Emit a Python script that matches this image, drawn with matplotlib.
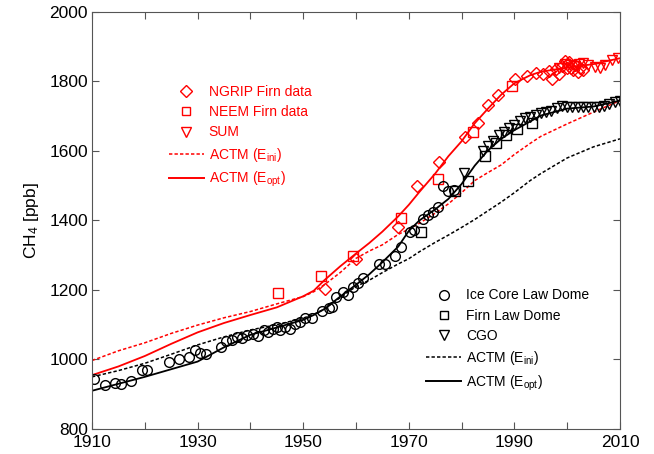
import matplotlib
matplotlib.use("Agg")
import matplotlib.pyplot as plt
from matplotlib.lines import Line2D

plt.rcParams["font.family"] = ["Liberation Sans", "DejaVu Sans"]
plt.rcParams["mathtext.fontset"] = "custom"
plt.rcParams["mathtext.rm"] = "Liberation Sans"
plt.rcParams["mathtext.it"] = "Liberation Sans"

# --- observations (black: southern hemisphere) ---
law_ice_yr = [1910.4, 1912.5, 1914.4, 1915.4, 1917.4, 1919.4, 1920.5, 1924.5, 1926.5,
              1928.4, 1929.5, 1930.5, 1931.5, 1934.4, 1935.4, 1936.6, 1937.5, 1938.5,
              1939.4, 1940.4, 1941.5, 1942.5, 1943.4, 1944.3, 1945.0, 1945.6, 1946.6,
              1947.5, 1948.4, 1949.4, 1950.3, 1951.6, 1953.5, 1954.8, 1955.5, 1956.3,
              1957.5, 1958.4, 1959.4, 1960.4, 1961.4, 1964.4, 1965.5, 1967.4, 1968.5,
              1970.2, 1970.9, 1972.6, 1973.7, 1974.6, 1975.6, 1976.5, 1977.5, 1978.6]
law_ice_ch4 = [944, 927, 932, 930, 939, 970, 970, 993, 1001,
               1008, 1027, 1020, 1016, 1037, 1053, 1056, 1064, 1061,
               1070, 1073, 1068, 1085, 1080, 1087, 1093, 1085, 1094,
               1089, 1102, 1108, 1119, 1119, 1140, 1147, 1152, 1181,
               1195, 1186, 1208, 1221, 1234, 1275, 1275, 1298, 1323,
               1368, 1373, 1403, 1416, 1425, 1440, 1500, 1485, 1488]

law_firn_yr = [1972.4, 1978.7, 1981.3, 1984.4, 1986.5, 1988.5, 1990.5, 1993.3]
law_firn_ch4 = [1368, 1484, 1515, 1586, 1622, 1645, 1662, 1680]

cgo_yr = [1980.5, 1984, 1985, 1986, 1987, 1988, 1989, 1990, 1991, 1992, 1993, 1994,
          1995, 1996, 1997, 1998, 1999, 2000, 2001, 2002, 2003, 2004, 2005, 2006,
          2007, 2008, 2009, 2010]
cgo_ch4 = [1537, 1600, 1615, 1630, 1645, 1656, 1666, 1675, 1686, 1695, 1699, 1704,
           1708, 1712, 1716, 1724, 1729, 1727, 1726, 1727, 1728, 1727, 1726, 1726,
           1730, 1736, 1741, 1745]

# --- observations (red: Greenland) ---
ngrip_yr = [1954.1, 1960.0, 1968.0, 1971.6, 1975.8, 1980.6, 1983.2, 1985.0, 1986.9,
            1990.1, 1992.3, 1994.1, 1995.5, 1996.5, 1997.2, 1997.8, 1998.4, 1999.0,
            1999.5, 1999.9, 2000.3, 2000.7, 2001.1, 2001.5, 2002.0, 2002.5, 2003.0]
ngrip_ch4 = [1202, 1288, 1382, 1499, 1569, 1641, 1680, 1732, 1761,
             1806, 1816, 1825, 1822, 1830, 1808, 1835, 1822, 1845,
             1858, 1840, 1855, 1838, 1832, 1848, 1826, 1840, 1834]

neem_yr = [1945.3, 1953.4, 1959.4, 1968.5, 1975.6, 1982.2, 1989.5]
neem_ch4 = [1190, 1240, 1298, 1406, 1518, 1655, 1787]

sum_yr = [1998.5, 1999.5, 2000.5, 2001.5, 2002.3, 2003.0, 2004.0, 2005.3, 2006.2,
          2007.2, 2008.4, 2009.6]
sum_ch4 = [1840, 1850, 1848, 1845, 1850, 1852, 1847, 1843, 1840, 1847, 1862, 1868]

# --- ACTM model runs ---
model_yr = [1910, 1915, 1920, 1925, 1930, 1935, 1940, 1945, 1950, 1952, 1954, 1957,
            1960, 1962.5, 1965, 1968, 1970, 1972, 1975, 1977.5, 1980, 1982.5, 1985,
            1987.5, 1990, 1993, 1995, 2000, 2005, 2010]
red_opt = [955, 980, 1010, 1045, 1078, 1105, 1128, 1150, 1182, 1198, 1228, 1268,
           1305, 1335, 1368, 1412, 1445, 1482, 1535, 1585, 1628, 1680, 1722,
           1762, 1795, 1818, 1828, 1840, 1850, 1867]
red_ini = [997, 1025, 1048, 1075, 1099, 1120, 1138, 1160, 1181, 1195, 1215, 1250,
           1291, 1312, 1330, 1360, 1375, 1392, 1421, 1448, 1480, 1515, 1538,
           1560, 1590, 1622, 1642, 1678, 1712, 1745]
blk_opt = [910, 930, 950, 972, 994, 1035, 1071, 1092, 1114, 1128, 1145, 1181,
           1215, 1245, 1280, 1325, 1370, 1400, 1432, 1462, 1505, 1558, 1602,
           1635, 1660, 1685, 1702, 1722, 1728, 1745]
blk_ini = [950, 968, 989, 1015, 1042, 1065, 1085, 1100, 1119, 1130, 1145, 1178,
           1210, 1228, 1250, 1275, 1290, 1310, 1337, 1358, 1380, 1403, 1428,
           1453, 1480, 1515, 1535, 1580, 1612, 1635]

fig = plt.figure(figsize=(6.54, 4.54), dpi=100)
ax = fig.add_axes([0.1407, 0.0551, 0.8073, 0.9185])

dash = (0, (2.2, 1.4))
ax.plot(model_yr, red_ini, color="red", lw=1.1, ls=dash)
ax.plot(model_yr, red_opt, color="red", lw=1.3)
ax.plot(model_yr, blk_ini, color="black", lw=1.1, ls=dash)
ax.plot(model_yr, blk_opt, color="black", lw=1.3)

mk = dict(ls="none", mfc="none", mew=1.0)
ax.plot(ngrip_yr, ngrip_ch4, marker="D", ms=6.5, mec="red", **mk)
ax.plot(neem_yr, neem_ch4, marker="s", ms=7, mec="red", **mk)
ax.plot(sum_yr, sum_ch4, marker="v", ms=7.5, mec="red", **mk)
ax.plot(law_ice_yr, law_ice_ch4, marker="o", ms=7, mec="black", **mk)
ax.plot(law_firn_yr, law_firn_ch4, marker="s", ms=7, mec="black", **mk)
ax.plot(cgo_yr, cgo_ch4, marker="v", ms=7.5, mec="black", **mk)

ax.set_xlim(1910, 2010)
ax.set_ylim(800, 2000)
ax.set_xticks(range(1910, 2011, 10))
ax.set_xticklabels([str(y) if (y - 1910) % 20 == 0 else "" for y in range(1910, 2011, 10)])
ax.set_yticks(range(800, 2001, 200))
ax.tick_params(direction="in", length=5, width=0.8, color="#555555",
               top=True, right=True, labelsize=12.5, pad=3)
ax.tick_params(axis="x", pad=4)
for s in ax.spines.values():
    s.set_color("#555555")
    s.set_linewidth(0.8)
ax.set_ylabel("CH$_4$ [ppb]", fontsize=12.5, labelpad=6)

def handles(c):
    return [Line2D([], [], ls="none", marker="D", ms=6.5, mfc="none", mec=c),
            Line2D([], [], ls="none", marker="s", ms=6, mfc="none", mec=c),
            Line2D([], [], ls="none", marker="v", ms=7.5, mfc="none", mec=c),
            Line2D([], [], color=c, lw=1.1, ls=dash),
            Line2D([], [], color=c, lw=1.4)]

h_red = handles("red")
leg1 = ax.legend(h_red, ["NGRIP Firn data", "NEEM Firn data", "SUM",
                         "ACTM (E$_{\\rm ini}$)", "ACTM (E$_{\\rm opt}$)"],
                 loc="upper left", bbox_to_anchor=(0.146, 0.825), frameon=False,
                 fontsize=10, handlelength=2.5, handletextpad=0.35,
                 labelspacing=0.45, borderpad=0, borderaxespad=0, numpoints=1)
for t in leg1.get_texts():
    t.set_color("red")
ax.add_artist(leg1)

h_blk = handles("black")
h_blk[0] = Line2D([], [], ls="none", marker="o", ms=7, mfc="none", mec="black")
ax.legend(h_blk, ["Ice Core Law Dome", "Firn Law Dome", "CGO",
                  "ACTM (E$_{\\rm ini}$)", "ACTM (E$_{\\rm opt}$)"],
          loc="upper left", bbox_to_anchor=(0.633, 0.337), frameon=False,
          fontsize=10, handlelength=2.5, handletextpad=0.35,
          labelspacing=0.45, borderpad=0, borderaxespad=0, numpoints=1)

fig.savefig("out.png", dpi=100)
